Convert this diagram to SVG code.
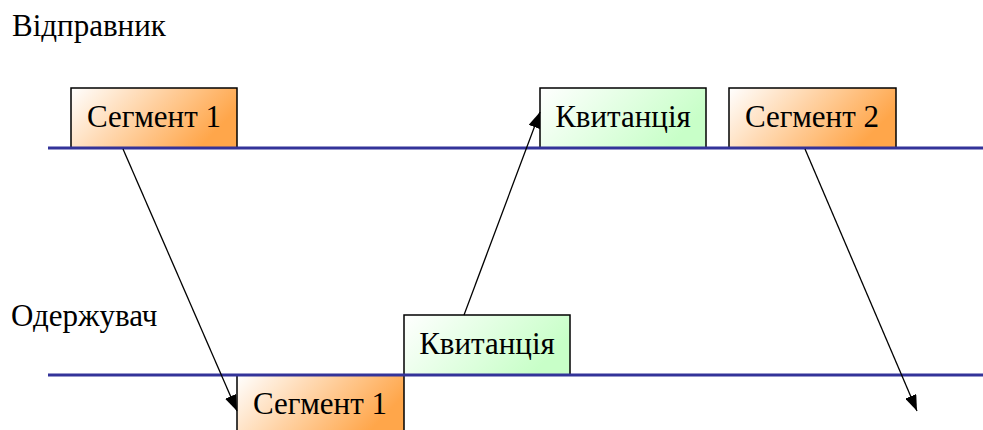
<svg xmlns="http://www.w3.org/2000/svg" width="983" height="430" viewBox="0 0 983 430">
<defs>
<linearGradient id="gOr" x1="0" y1="0" x2="1" y2="0.35">
<stop offset="0" stop-color="#FFFFFF"/>
<stop offset="1" stop-color="#FFA64A"/>
</linearGradient>
<linearGradient id="gGr" x1="0" y1="0" x2="1" y2="0.35">
<stop offset="0" stop-color="#FFFFFF"/>
<stop offset="1" stop-color="#C8FFC8"/>
</linearGradient>
<marker id="ah" markerWidth="16" markerHeight="12" refX="16" refY="6" orient="auto" markerUnits="userSpaceOnUse" viewBox="0 0 16 12">
<path d="M0,0 L16,6 L0,12 Z" fill="#000"/>
</marker>
<style>
.lbl{font-family:'Liberation Serif',serif;font-size:31px;fill:#000}
.bt{font-family:'Liberation Serif',serif;font-size:31px;fill:#000;text-anchor:middle}
.or{fill:url(#gOr);stroke:#000;stroke-width:1.5}
.gr{fill:url(#gGr);stroke:#000;stroke-width:1.5}
.tl{stroke:#333399;stroke-width:3}
.ar{stroke:#000;stroke-width:1.3;fill:none;marker-end:url(#ah)}
</style>
</defs>
<rect width="983" height="430" fill="#fff"/>
<text class="lbl" x="12" y="36">Відправник</text>
<text class="lbl" x="11" y="326">Одержувач</text>
<g id="seg1-send"><rect class="or" x="71" y="88" width="166" height="60"/><text class="bt" x="154" y="127">Сегмент 1</text></g>
<g id="ack-send"><rect class="gr" x="540" y="88" width="166" height="60"/><text class="bt" x="623" y="127">Квитанція</text></g>
<g id="seg2-send"><rect class="or" x="729" y="88" width="167" height="60"/><text class="bt" x="812" y="127">Сегмент 2</text></g>
<g id="ack-recv"><rect class="gr" x="404" y="315" width="166" height="60"/><text class="bt" x="487" y="354">Квитанція</text></g>
<g id="seg1-recv"><rect class="or" x="237" y="375" width="167" height="60"/><text class="bt" x="320" y="414">Сегмент 1</text></g>
<g id="timelines">
<line class="tl" x1="48" y1="148" x2="983" y2="148"/>
<line class="tl" x1="48" y1="375" x2="983" y2="375"/>
</g>
<g id="connectors">
<line class="ar" x1="123" y1="149" x2="237" y2="411"/>
<line class="ar" x1="464" y1="315" x2="540" y2="112"/>
<line class="ar" x1="805" y1="149" x2="917" y2="411"/>
</g>
</svg>
